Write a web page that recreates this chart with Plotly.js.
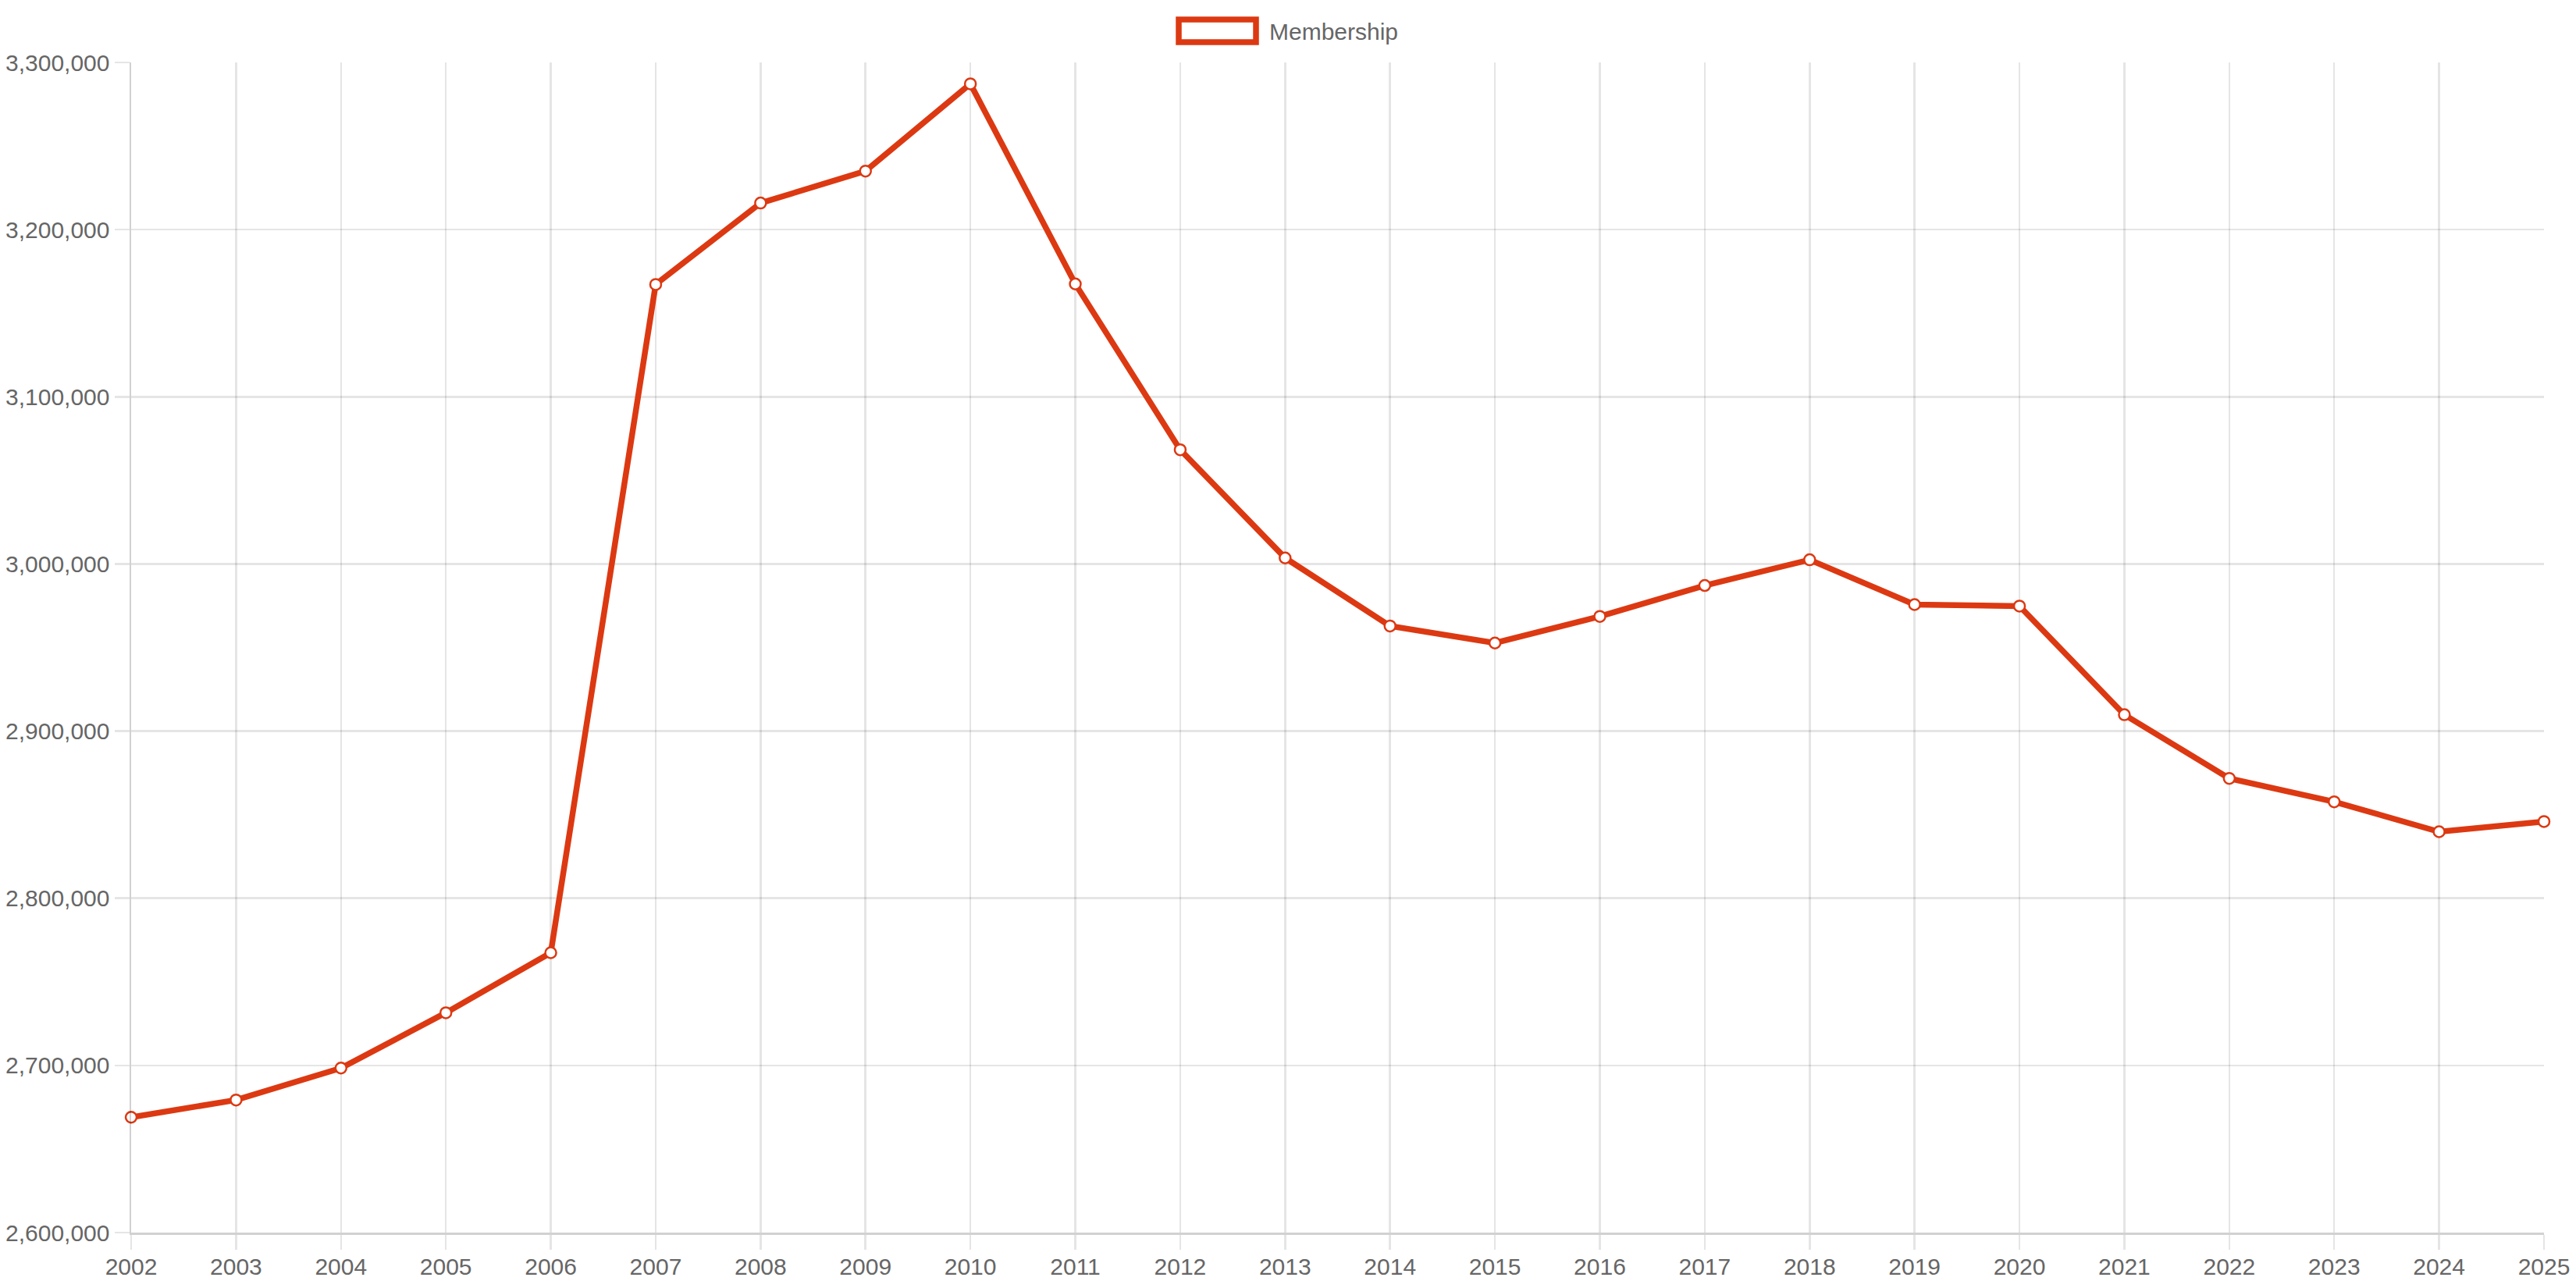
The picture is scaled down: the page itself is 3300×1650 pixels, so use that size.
<!DOCTYPE html>
<html>
<head>
<meta charset="utf-8">
<script src="https://cdn.plot.ly/plotly-3.0.1.min.js"></script>
<style>
  html, body { margin: 0; padding: 0; background: #ffffff; }
  #chart { width: 3300px; height: 1650px; }
</style>
</head>
<body>
<div id="chart"></div>
<script>
const years = [2002, 2003, 2004, 2005, 2006, 2007, 2008, 2009, 2010, 2011, 2012, 2013,
               2014, 2015, 2016, 2017, 2018, 2019, 2020, 2021, 2022, 2023, 2024, 2025];
const membership = [2669000, 2679300, 2698400, 2731500, 2767400, 3167200, 3215900, 3235000,
                    3287200, 3167500, 3068300, 3003600, 2962900, 2952700, 2968600, 2987100,
                    3002500, 2975700, 2974800, 2909800, 2871700, 2857700, 2839800, 2845900];
const seriesName = 'Membership';
const yTicks = [2600000, 2700000, 2800000, 2900000, 3000000, 3100000, 3200000, 3300000];

const lineColor = '#dc3912';
const gridColor = 'rgba(0,0,0,0.1)';
const textColor = '#666666';
const fontFamily = 'Liberation Sans, Arial, Helvetica, sans-serif';

const W = 3300, H = 1650;
const L = 168, R = 41, T = 80, B = 71;
const pw = W - L - R, ph = H - T - B;
const px = x => (x - L) / pw;
const py = y => (H - B - y) / ph;

const trace = {
  x: years,
  y: membership,
  type: 'scatter',
  mode: 'lines+markers',
  name: seriesName,
  line: { color: lineColor, width: 7.5 },
  marker: { size: 14, color: '#ffffff', line: { color: lineColor, width: 2.5 } },
  cliponaxis: false,
  showlegend: false
};

const layout = {
  width: W,
  height: H,
  margin: { l: L, r: R, t: T, b: B, pad: 0 },
  paper_bgcolor: '#ffffff',
  plot_bgcolor: '#ffffff',
  font: { family: fontFamily, size: 30, color: textColor },
  showlegend: false,
  xaxis: {
    type: 'linear',
    range: [years[0], years[years.length - 1]],
    tickvals: years,
    ticktext: years.map(String),
    showgrid: true,
    gridcolor: gridColor,
    gridwidth: 2.5,
    zeroline: false,
    showline: true,
    linecolor: 'rgba(0,0,0,0.18)',
    linewidth: 2.5,
    ticks: 'outside',
    ticklen: 19,
    tickwidth: 2.5,
    tickcolor: gridColor,
    tickfont: { family: fontFamily, size: 30, color: textColor },
    ticklabelstandoff: -4
  },
  yaxis: {
    range: [yTicks[0], yTicks[yTicks.length - 1]],
    tickvals: yTicks,
    tickformat: ',',
    showgrid: true,
    gridcolor: gridColor,
    gridwidth: 2.5,
    zeroline: false,
    showline: true,
    linecolor: 'rgba(0,0,0,0.18)',
    linewidth: 2.5,
    ticks: 'outside',
    ticklen: 19,
    tickwidth: 2.5,
    tickcolor: gridColor,
    tickfont: { family: fontFamily, size: 30, color: textColor },
    ticklabelstandoff: 0
  },
  shapes: [{
    type: 'rect',
    xref: 'paper', yref: 'paper',
    x0: px(1510), x1: px(1609),
    y0: py(54), y1: py(25),
    line: { color: lineColor, width: 7.5 },
    fillcolor: '#ffffff',
    layer: 'above'
  }],
  annotations: [{
    xref: 'paper', yref: 'paper',
    x: px(1624), y: py(40),
    xanchor: 'left', yanchor: 'middle',
    text: seriesName,
    showarrow: false,
    font: { family: fontFamily, size: 30, color: textColor }
  }]
};

Plotly.newPlot('chart', [trace], layout, { staticPlot: true, displayModeBar: false });
</script>
</body>
</html>
